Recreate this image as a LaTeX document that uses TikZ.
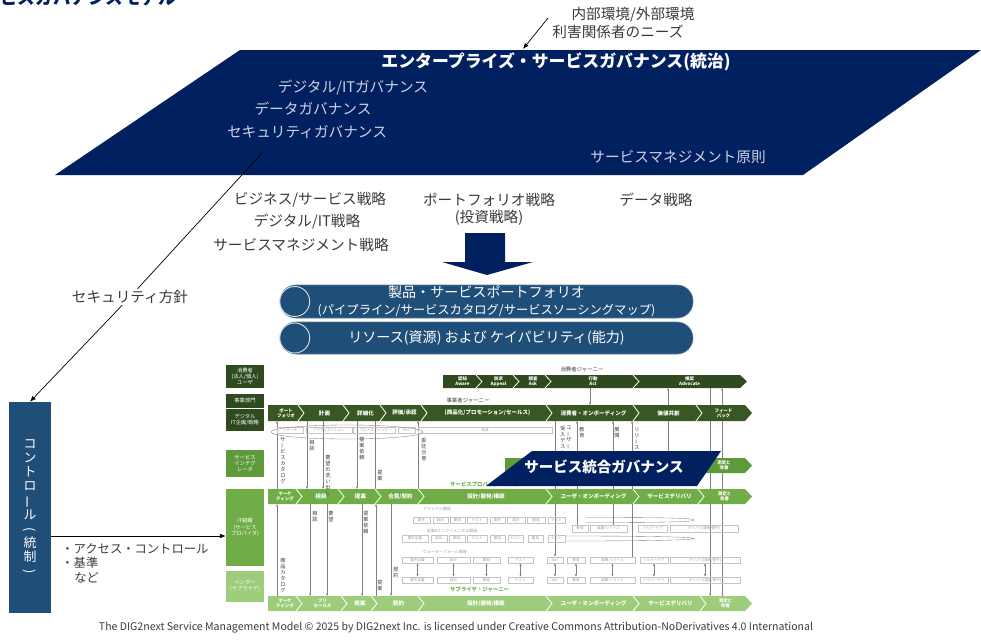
\documentclass[tikz,border=0pt]{standalone}
\usepackage{fontspec}
\setmainfont{Noto Sans CJK JP}
\usepackage{graphicx}
\usetikzlibrary{positioning,calc,arrows.meta,backgrounds}

\definecolor{govnavy}{HTML}{002060}
\definecolor{pillblue}{HTML}{1F4E79}
\definecolor{navytext}{HTML}{CDD3E4}
\definecolor{darktext}{HTML}{3A3A3A}
\definecolor{jdark}{HTML}{2E4A1E}
\definecolor{jmid}{HTML}{385723}
\definecolor{jinteg}{HTML}{5E9A3A}
\definecolor{jgreen}{HTML}{70AD47}
\definecolor{jlight}{HTML}{9DCC7A}
\definecolor{boxgrey}{HTML}{C4C4C4}
\definecolor{tinygrey}{HTML}{9A9A9A}

\newlength\px
\setlength\px{0.03cm}
\newcommand\tbar{\rotatebox[origin=c]{90}{ー}}
\newcommand\tlp{\rotatebox[origin=c]{-90}{(}}
\newcommand\trp{\rotatebox[origin=c]{-90}{)}}

\begin{document}
\begin{tikzpicture}[
    x=0.03cm, y=-0.03cm,
    govtitle/.style={text=white, font=\fontsize{14.4}{16}\selectfont\bfseries, inner sep=1pt},
    govtxt/.style={text=navytext, font=\fontsize{12.5}{14}\selectfont, inner sep=1pt},
    strat/.style={text=darktext, font=\fontsize{12.5}{14}\selectfont, inner sep=1pt},
    pill/.style={
        rectangle,
        rounded corners=16\px,
        fill=pillblue,
        draw=pillblue!75!white,
        line width=0.5pt,
        text=white,
        align=center,
        inner sep=0
    },
    pfring/.style={circle, draw=white!80!pillblue, line width=0.8pt, inner sep=0, minimum size=30\px},
    lane/.style={rectangle, fill=#1, text=white, font=\fontsize{4.5}{5.4}\selectfont, align=center, inner sep=0, minimum width=38\px},
    jtxt/.style={text=white, font=\fontsize{4.7}{5}\selectfont\bfseries, align=center, inner sep=0},
    jtxtb/.style={text=white, font=\fontsize{3.8}{4.3}\selectfont\bfseries, align=center, inner sep=0},
    chevsep/.style={draw=white, line width=0.7pt},
    gbox/.style={draw=boxgrey, line width=0.3pt, text=tinygrey, font=\fontsize{3}{3.4}\selectfont, inner sep=0, minimum height=6.5\px},
    glab/.style={text=tinygrey, font=\fontsize{3.4}{3.8}\selectfont, inner sep=0},
    vlab/.style={text=darktext, font=\fontsize{4.4}{5.1}\selectfont, align=center, inner sep=0, anchor=north},
    jlab/.style={font=\fontsize{4.6}{5}\selectfont, inner sep=0},
    vtick/.style={draw=gray, line width=0.3pt},
    tipped/.style={-{Latex[length=2pt,width=1.8pt]}},
    arr/.style={draw=black, line width=0.6pt, -{Latex[length=5pt,width=4pt]}}
]
    % Page frame
    \useasboundingbox (0,0) rectangle (981,639);
    \clip (0,0) rectangle (981,639);

    % Title cut by the top edge
    \node[anchor=base east, text=govnavy, font=\fontsize{15}{16}\selectfont\bfseries, inner sep=0] (title) at (176,4) {サービスガバナンスモデル};

    % Enterprise governance plane
    \fill[govnavy] (240,50) -- (981,50) -- (803,175) -- (55,175) -- cycle;
    \node[govtitle] (entgov) at (556,62) {エンタープライズ・サービスガバナンス(統治)};
    \node[govtxt] (dgov) at (353,88) {デジタル/ITガバナンス};
    \node[govtxt] (datagov) at (313,109) {データガバナンス};
    \node[govtxt] (secgov) at (307,132) {セキュリティガバナンス};
    \node[govtxt] (smprin) at (678,157) {サービスマネジメント原則};

    % Environment and needs
    \node[strat] (envtxt) at (633,15) {内部環境/外部環境};
    \node[strat] (needs) at (618,32) {利害関係者のニーズ};
    \coordinate (envfoot) at (548,18);
    \coordinate (entedge) at (523,49);
    \draw[arr] (envfoot) -- (entedge);

    % Strategies
    \node[strat] (bizstr) at (310,200) {ビジネス/サービス戦略};
    \node[strat] (digstr) at (307,222) {デジタル/IT戦略};
    \node[strat] (smstr) at (301,245) {サービスマネジメント戦略};
    \node[strat] (pfstr) at (489,200) {ポートフォリオ戦略};
    \node[strat] (invstr) at (489,218) {(投資戦略)};
    \node[strat] (datastr) at (656,200) {データ戦略};

    % Block arrow down to the portfolio
    \fill[govnavy] (465,233) -- (505,233) -- (505,262) -- (533,262) -- (487,275) -- (442,262) -- (465,262) -- cycle;

    % Portfolio and resources
    \node[pill, minimum width=413\px, minimum height=33\px, font=\fontsize{12}{14.5}\selectfont] (pfbar) at (486.5,301.5)
        {製品・サービスポートフォリオ\\{\fontsize{10.5}{12}\selectfont (パイプライン/サービスカタログ/サービスソーシングマップ)}};
    \node[pill, minimum width=413\px, minimum height=32\px, font=\fontsize{12}{14}\selectfont] (resbar) at (486.5,338)
        {リソース(資源) および ケイパビリティ(能力)};
    \node[pfring] (pfcirc) at ([xshift=15\px]pfbar.west) {};
    \node[pfring] (rescirc) at ([xshift=15\px]resbar.west) {};

    % Security policy and control
    \coordinate (secfoot) at (263,152);
    \node[strat] (secpol) at (130,297) {セキュリティ方針};
    \draw[line width=0.6pt] (secfoot) -- (secpol);
    \node[rectangle, fill=pillblue, text=white, minimum width=42\px, minimum height=211\px,
          font=\fontsize{11}{12.1}\selectfont, align=center, inner sep=0] (ctrl) at (30,507.5)
        {コ\\ン\\ト\\ロ\\\tbar\\ル\\\tlp\\統\\制\\\trp};
    \draw[arr] (secpol) -- (ctrl.north);
    \node[strat, anchor=west, font=\fontsize{10.5}{12}\selectfont] (access) at (60,549) {・アクセス・コントロール};
    \node[strat, anchor=west, font=\fontsize{10.5}{12}\selectfont] (kijun) at (60,563) {・基準};
    \node[strat, anchor=west, font=\fontsize{10.5}{12}\selectfont] (nado) at (73,578) {など};

    % Lane labels
    \node[lane=jdark, minimum height=23\px] (consumer) at (245,376.5) {消費者\\(法人/個人)\\ユーザ};
    \node[lane=jdark, minimum height=14\px] (bizdept) at (245,400.5) {事業部門};
    \node[lane=jdark, minimum height=22\px] (digplan) at (245,419.5) {デジタル\\IT企画/戦略};
    \node[lane=jinteg, minimum height=27\px] (integ) at (245,463.5) {サービス\\インテグ\\レータ};
    \node[lane=jgreen, minimum height=77\px] (itorg) at (245,527.5) {IT組織\\(サービス\\プロバイダ)};
    \node[lane=jlight, minimum height=31\px] (vendor) at (245,586) {ベンダー\\(サプライヤ)};

    \coordinate (ctrlmid) at (0,536);
    \draw[arr] (ctrl.east |- ctrlmid) -- (itorg.west |- ctrlmid);

    % Journey bands
    \foreach \nm/\col/\yt/\yb/\xs/\xe in {jA/jdark/375/388/443/740, jB/jmid/405/421/268/745, jS/jinteg/458/473/505/745, jC/jgreen/489/504/268/745, jE/jlight/596/611/268/745}{
        \fill[\col] (\xs,\yt) -- (\xe,\yt) -- ({\xe+7},{(\yt+\yb)/2}) -- (\xe,\yb) -- (\xs,\yb) -- cycle;
        \coordinate (\nm top) at (\xs,\yt);
        \coordinate (\nm bot) at (\xs,\yb);
    }

    % Consumer journey
    \foreach \xa/\xb/\txt/\st [count=\i] in {443/478/{認知\\Aware}/jtxtb, 478/515/{訴求\\Appeal}/jtxtb, 515/547/{調査\\Ask}/jtxtb, 547/635/{行動\\Act}/jtxtb, 635/740/{推奨\\Advocate}/jtxtb}{
        \ifnum\i>1 \draw[chevsep] ({\xa-2},375) -- ({\xa+4},381.5) -- ({\xa-2},388); \fi
        \node[\st] (jA\i) at ({(\xa+\xb)/2+2},381.5) {\txt};
    }
    % Business journey
    \foreach \xa/\xb/\txt/\st [count=\i] in {268/300/{ポート\\フォリオ}/jtxtb, 300/345/{計画}/jtxt, 345/382/{詳細化}/jtxt, 382/423/{評価/承認}/jtxt, 423/548/{(商品化/プロモーション/セールス)}/jtxt, 548/635/{消費者・オンボーディング}/jtxt, 635/698/{価値共創}/jtxt, 698/745/{フィード\\バック}/jtxtb}{
        \ifnum\i>1 \draw[chevsep] ({\xa-2},405) -- ({\xa+4},413) -- ({\xa-2},421); \fi
        \node[\st] (jB\i) at ({(\xa+\xb)/2+2},413) {\txt};
    }
    % Integrator journey
    \draw[chevsep] (698,458) -- (704,465.5) -- (698,473);
    \node[jtxtb] (jS1) at (724,465.5) {測定と\\改善};
    % Provider journey
    \foreach \xa/\xb/\txt/\st [count=\i] in {268/298/{マーケ\\ティング}/jtxtb, 298/340/{相談}/jtxt, 340/377/{提案}/jtxt, 377/420/{合意/契約}/jtxt, 420/548/{設計/開発/構築}/jtxt, 548/635/{ユーザ・オンボーディング}/jtxt, 635/700/{サービスデリバリ}/jtxt, 700/745/{測定と\\改善}/jtxtb}{
        \ifnum\i>1 \draw[chevsep] ({\xa-2},489) -- ({\xa+4},496.5) -- ({\xa-2},504); \fi
        \node[\st] (jC\i) at ({(\xa+\xb)/2+2},496.5) {\txt};
    }
    % Supplier journey
    \foreach \xa/\xb/\txt/\st [count=\i] in {268/298/{マーケ\\ティング}/jtxtb, 298/343/{プリ\\セールス}/jtxtb, 343/373/{提案}/jtxt, 373/420/{契約}/jtxt, 420/548/{設計/開発/構築}/jtxt, 548/635/{ユーザ・オンボーディング}/jtxt, 635/702/{サービスデリバリ}/jtxt, 702/745/{測定と\\改善}/jtxtb}{
        \ifnum\i>1 \draw[chevsep] ({\xa-2},596) -- ({\xa+4},603.5) -- ({\xa-2},611); \fi
        \node[\st] (jE\i) at ({(\xa+\xb)/2+2},603.5) {\txt};
    }

    % Journey captions
    \node[jlab, text=darktext] (capA) at (582,369) {消費者ジャーニー};
    \node[jlab, text=darktext] (capB) at (468,400) {事業者ジャーニー};
    \node[jlab, text=jgreen, anchor=west, font=\fontsize{4.6}{5}\selectfont\bfseries] (capC) at (450,484) {サービスプロバイダー・ジャーニー};
    \node[jlab, text=jgreen, anchor=west, font=\fontsize{4.6}{5}\selectfont\bfseries] (capE) at (450,589) {サプライヤ・ジャーニー};

    % Small process boxes
    \foreach \xa/\xb/\txt [count=\i] in {277/303/{リサーチ}, 306/352/{アイディエーション}, 353/395/{プロトタイピング}, 398/415/{PoC}, 418/552/{実装}}
        \node[gbox, minimum width={(\xb-\xa)*\px}] (rs\i) at ({(\xa+\xb)/2},430) {\txt};
    \draw[vtick] (347,432) ellipse [x radius=76, y radius=7];

    \node[glab] (agile) at (437,509) {アジャイル開発};
    \foreach \xa/\xb/\txt [count=\i] in {413/430/{要件}, 433/448/{設計}, 450/465/{開発}, 467/487/{テスト}, 490/505/{要件}, 507/525/{設計}, 527/545/{開発}, 548/565/{テスト}}
        \node[gbox, minimum width={(\xb-\xa)*\px}] (ag\i) at ({(\xa+\xb)/2},520) {\txt};
    \node[glab] (agdots) at (577,520) {・・・};
    \draw[vtick] (586,517.5) .. controls (660,517.5) and (694,518) .. (694,520) .. controls (694,522) and (660,522.5) .. (586,522.5);

    \node[glab] (incr) at (452,530.5) {反復\&インクリメンタル開発};
    \foreach \xa/\xb/\txt [count=\i] in {402/428/{要件定義}, 431/447/{設計}, 449/465/{開発}, 467/487/{テスト}, 490/505/{開発}, 508/523/{テスト}, 528/543/{開発}, 548/565/{テスト}}
        \node[gbox, minimum width={(\xb-\xa)*\px}] (ic\i) at ({(\xa+\xb)/2},538.5) {\txt};
    \draw[vtick] (566,536) .. controls (650,536) and (694,537) .. (694,538.5) .. controls (694,540) and (650,541) .. (566,541);

    \foreach \xa/\xb/\txt [count=\i] in {572/588/{教育}, 590/627/{展開/リリース}, 638/667/{ハイパーケア}, 670/738/{デリバリ(運用/保守)}}
        \node[gbox, minimum width={(\xb-\xa)*\px}] (op\i) at ({(\xa+\xb)/2},528.5) {\txt};

    \node[glab] (wfall) at (445,552) {ウォーターフォール開発};
    \foreach \xa/\xb/\txt [count=\i] in {402/433/{要件定義}, 437/470/{設計}, 473/500/{開発}, 508/533/{テスト}, 547/563/{UAT}, 567/585/{教育}, 590/635/{展開/リリース}, 640/668/{ハイパーケア}, 670/740/{デリバリ(運用/保守)}}{
        \node[gbox, minimum width={(\xb-\xa)*\px}] (wfA\i) at ({(\xa+\xb)/2},560) {\txt};
        \node[gbox, minimum width={(\xb-\xa)*\px}] (wfB\i) at ({(\xa+\xb)/2},580) {\txt};
        \draw[vtick, {Latex[length=2pt,width=1.8pt]}-{Latex[length=2pt,width=1.8pt]}] (wfA\i.south) -- (wfB\i.north);
    }

    % Hand-offs between journeys
    \begin{scope}[on background layer]
        \foreach \x in {277,418}
            \draw[vtick, tipped] (\x,0 |- jCtop) -- (\x,0 |- jBbot);
        \foreach \x in {307,323,357}
            \draw[vtick, tipped] (\x,0 |- jBbot) -- (\x,0 |- jCtop);
        \draw[vtick] (375,0 |- jBbot) -- (375,0 |- jCtop);
        \draw[vtick, tipped] (710,0 |- jAbot) -- (710,0 |- jEtop);
        \draw[vtick, tipped] (722,0 |- jEtop) -- (722,0 |- jAbot);
        \draw[vtick, tipped] (668,0 |- jStop) -- (668,0 |- jAbot);
        \draw[vtick, tipped] (590,0 |- jAbot) -- (590,0 |- jBtop);
        \draw[vtick, tipped] (wfA5.north |- jBbot) -- (wfA5.north);
        \draw[vtick, tipped] (577,0 |- op1.north) -- (577,0 |- jBbot);
        \draw[vtick, tipped] (613,0 |- op2.north) -- (613,0 |- jBbot);
        \draw[vtick, tipped] (632,0 |- wfA7.north) -- (632,0 |- jBbot);
        \foreach \x in {277,376}
            \draw[vtick, tipped] (\x,0 |- jEtop) -- (\x,0 |- jCbot);
        \foreach \x in {310,327,362,391}
            \draw[vtick, tipped] (\x,0 |- jCbot) -- (\x,0 |- jEtop);
    \end{scope}

    % Hand-off labels
    \foreach \x/\y/\txt [count=\i] in {283/437/{サ\\\tbar\\ビ\\ス\\カ\\タ\\ロ\\グ}, 312/440/{相\\談}, 328/455/{要\\望\\の\\洗\\い\\出\\し}, 362/437/{提\\案\\依\\頼}, 380/470/{提\\案}, 424/438/{委\\託\\合\\意}, 569/426/{ユ\\\tbar\\ザ\\\tbar}, 563/426/{受\\入\\テ\\ス\\ト}, 582/427/{教\\育}, 617/427/{展\\開}, 637/427/{リ\\リ\\\tbar\\ス}}
        \node[vlab] (vu\i) at (\x,\y) {\txt};
    \foreach \x/\y/\txt [count=\i] in {283/558/{商\\品\\カ\\タ\\ロ\\グ}, 315/511/{相\\談}, 331/511/{要\\望}, 366/511/{提\\案\\依\\頼}, 380/580/{提\\案}, 396/567/{契\\約}}
        \node[vlab] (vl\i) at (\x,\y) {\txt};

    % Service integration governance
    \fill[govnavy] (532,451) -- (721,451) -- (697,486) -- (486,486) -- cycle;
    \node[text=white, font=\fontsize{12.4}{14}\selectfont\bfseries, inner sep=0] (sigov) at (604,467) {サービス統合ガバナンス};

    % Licence line
    \node[text=darktext, font=\fontsize{9}{10}\selectfont, inner sep=0] (foot) at (456,628)
        {The DIG2next Service Management Model © 2025 by DIG2next Inc. is licensed under Creative Commons Attribution-NoDerivatives 4.0 International};
\end{tikzpicture}
\end{document}
